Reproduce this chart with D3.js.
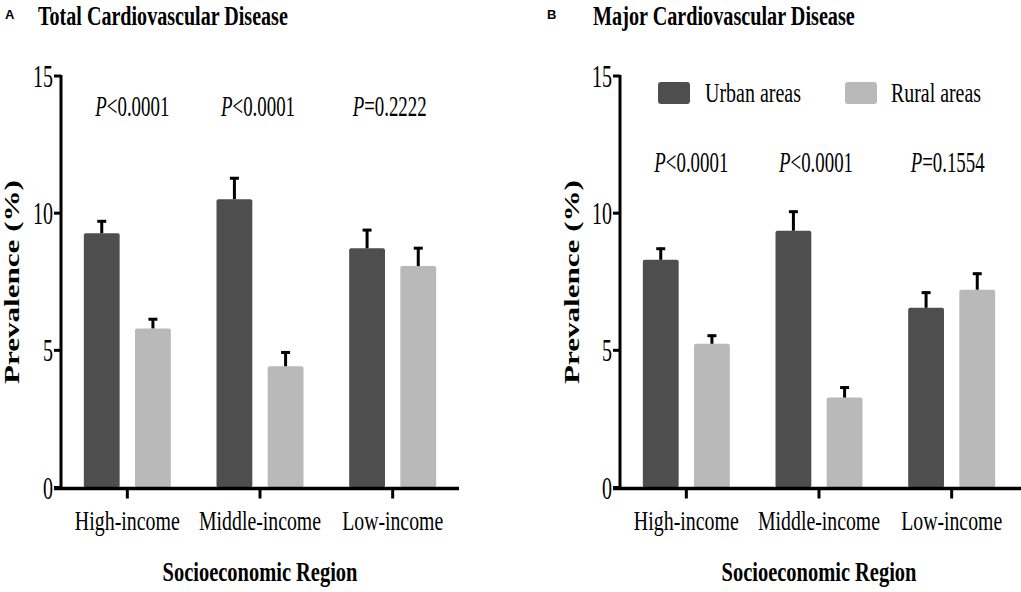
<!DOCTYPE html>
<html><head><meta charset="utf-8">
<script src="https://cdn.jsdelivr.net/npm/d3@7/dist/d3.min.js"></script>
<style>body{margin:0;background:#fff}svg{display:block}</style>
</head><body>
<script>
// ---- data ----
const categories = ["High-income", "Middle-income", "Low-income"];
const seriesNames = ["Urban areas", "Rural areas"];
const totalUrban = [9.27, 10.51, 8.72];
const totalUrbanErr = [9.74, 11.31, 9.42];
const totalRural = [5.80, 4.42, 8.07];
const totalRuralErr = [6.17, 4.96, 8.76];
const majorUrban = [8.30, 9.36, 6.55];
const majorUrbanErr = [8.74, 10.09, 7.14];
const majorRural = [5.24, 3.28, 7.21];
const majorRuralErr = [5.57, 3.68, 7.83];
const totalP = ["<0.0001", "<0.0001", "=0.2222"];
const majorP = ["<0.0001", "<0.0001", "=0.1554"];
const yTicks = [0, 5, 10, 15];

const W = 1021, H = 592;
const colors = {"Urban areas": "#4e4e4e", "Rural areas": "#b9b9b9"};
const serif = "'Liberation Serif','Times New Roman',serif";

const svg = d3.select("body").append("svg").attr("width", W).attr("height", H);

// text drawn at natural size then squeezed horizontally to the target width
function txt(g, x, y, size, len, opts = {}) {
  const t = g.append("text").attr("x", 0).attr("y", 0)
    .attr("font-family", opts.family || serif)
    .attr("font-size", size)
    .attr("font-weight", opts.bold ? "bold" : "normal")
    .attr("text-anchor", opts.anchor || "middle")
    .attr("fill", "#000");
  t.fit = function () {
    const nat = t.node().getComputedTextLength();
    const sx = len && nat ? len / nat : 1;
    t.attr("transform", `translate(${x},${y})${opts.rotate ? " rotate(-90)" : ""} scale(${sx},1)`);
    return t;
  };
  return t;
}

function panel(cfg) {
  const g = svg.append("g");
  const y = d3.scaleLinear().domain([0, 15]).range([487.5, 76]);
  const x = d3.scaleBand().domain(categories).range([cfg.ax, cfg.ax + 398]).padding(0);
  const inner = d3.scaleBand().domain(seriesNames).range([-43.5, 43.5]).paddingInner(0.3);

  // panel letter and title
  txt(g, cfg.letterX, 19, 13, null, {family: "'Liberation Sans',Arial,sans-serif", bold: true, anchor: "start"}).text(cfg.letter).fit();
  txt(g, cfg.titleX, 25, 27, cfg.titleW, {bold: true, anchor: "start"}).text(cfg.title).fit();

  // bars
  const rows = categories.map((c, i) => ({c, vals: [
    {s: seriesNames[0], v: cfg.urban[i], e: cfg.urbanErr[i]},
    {s: seriesNames[1], v: cfg.rural[i], e: cfg.ruralErr[i]}]}));
  rows.forEach(r => {
    const cx = x(r.c) + x.bandwidth() / 2;
    r.vals.forEach(d => {
      const bx = cx + inner(d.s);
      g.append("rect").attr("x", bx).attr("y", y(d.v))
        .attr("width", inner.bandwidth()).attr("height", y(0) - y(d.v))
        .attr("rx", 2).attr("fill", colors[d.s]);
      const mx = bx + inner.bandwidth() / 2;
      g.append("line").attr("x1", mx).attr("x2", mx).attr("y1", y(d.v)).attr("y2", y(d.e))
        .attr("stroke", "#000").attr("stroke-width", 3);
      g.append("line").attr("x1", mx - 4.5).attr("x2", mx + 4.5).attr("y1", y(d.e) + 1).attr("y2", y(d.e) + 1)
        .attr("stroke", "#000").attr("stroke-width", 3);
    });
  });

  // P labels
  categories.forEach((c, i) => {
    const cx = x(c) + x.bandwidth() / 2 + cfg.pShift[i];
    const t = txt(g, cx, cfg.pY, 29, 74);
    t.append("tspan").attr("font-style", "italic").text("P");
    t.append("tspan").text(cfg.p[i]);
    t.fit();
  });

  // y axis
  g.append("line").attr("x1", cfg.ax).attr("x2", cfg.ax).attr("y1", y(15) - 1).attr("y2", y(0))
    .attr("stroke", "#000").attr("stroke-width", 3);
  yTicks.forEach(v => {
    g.append("line").attr("x1", cfg.ax - 7).attr("x2", cfg.ax).attr("y1", y(v)).attr("y2", y(v))
      .attr("stroke", "#000").attr("stroke-width", 3);
    txt(g, cfg.ax - 8, y(v) + 11, 31, String(v).length * 10, {anchor: "end"}).text(v).fit();
  });
  // x axis
  g.append("line").attr("x1", cfg.ax - 7).attr("x2", cfg.xEnd).attr("y1", y(0) + 1).attr("y2", y(0) + 1)
    .attr("stroke", "#000").attr("stroke-width", 3.5);
  const labW = {"High-income": 105, "Middle-income": 122, "Low-income": 101};
  categories.forEach(c => {
    const cx = x(c) + x.bandwidth() / 2;
    g.append("line").attr("x1", cx).attr("x2", cx).attr("y1", y(0)).attr("y2", y(0) + 11)
      .attr("stroke", "#000").attr("stroke-width", 3);
    txt(g, cx, 530, 27, labW[c]).text(c).fit();
  });

  // axis titles
  txt(g, cfg.ax + 199, 581, 28, 195, {bold: true}).text("Socioeconomic Region").fit();
  txt(g, cfg.ytX, 282, 20, 204, {bold: true, rotate: true}).text("Prevalence (%)").fit();
}

panel({letter: "A", letterX: 5, title: "Total Cardiovascular Disease", titleX: 38, titleW: 250,
  ax: 61, xEnd: 459, ytX: 19, urban: totalUrban, urbanErr: totalUrbanErr, rural: totalRural, ruralErr: totalRuralErr,
  p: totalP, pY: 116, pShift: [5, -2, -3]});
panel({letter: "B", letterX: 547, title: "Major Cardiovascular Disease", titleX: 593, titleW: 262,
  ax: 620, xEnd: 1021, ytX: 579, urban: majorUrban, urbanErr: majorUrbanErr, rural: majorRural, ruralErr: majorRuralErr,
  p: majorP, pY: 172, pShift: [5, -3, -4]});

// legend (panel B)
const leg = svg.append("g");
const legX = [658, 845], legTX = [705, 891], legW = [96, 90];
seriesNames.forEach((s, i) => {
  leg.append("rect").attr("x", legX[i]).attr("y", 82).attr("width", 32).attr("height", 22)
    .attr("rx", 3).attr("fill", colors[s]);
  txt(leg, legTX[i], 102, 27, legW[i], {anchor: "start"}).text(s).fit();
});
</script>
</body></html>
